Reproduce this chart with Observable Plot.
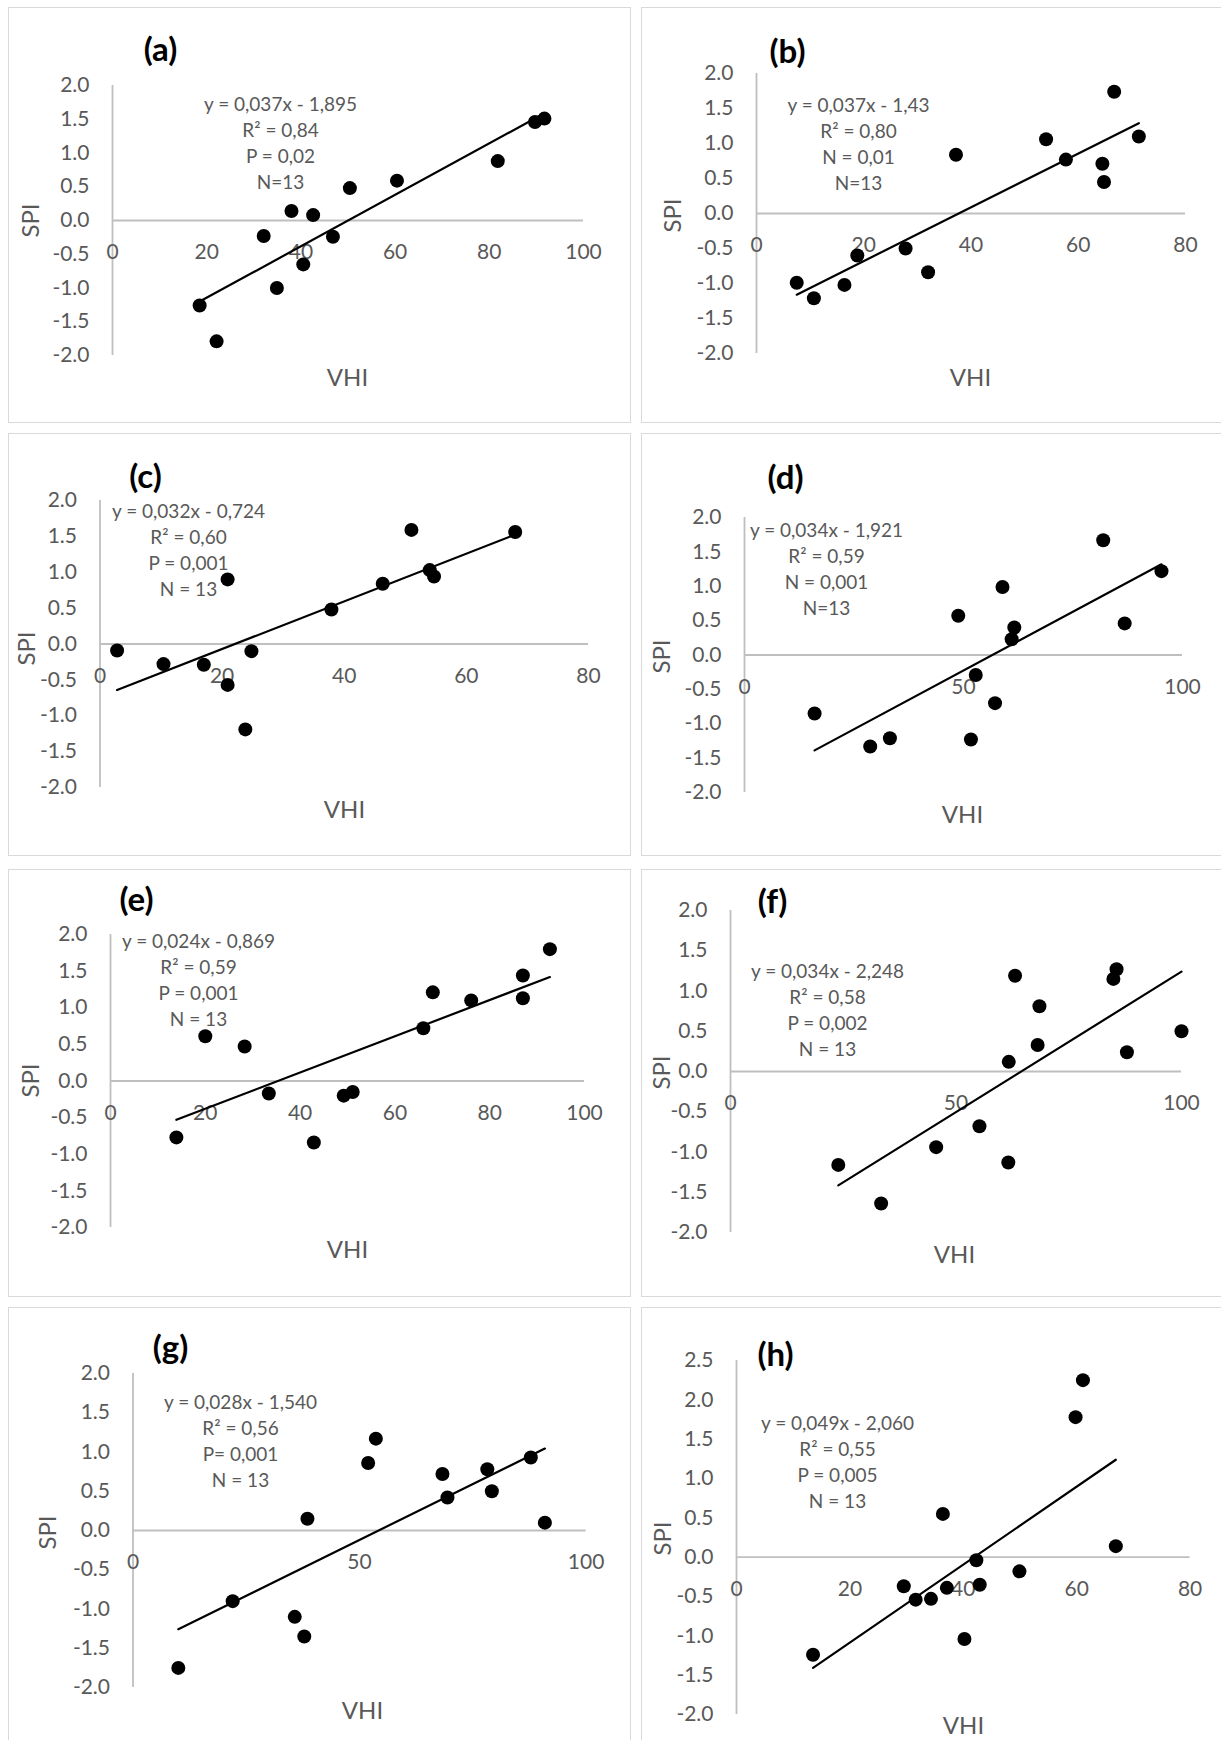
<!DOCTYPE html>
<html>
<head>
<meta charset="utf-8">
<script src="https://cdn.jsdelivr.net/npm/d3@7"></script>
<script src="https://cdn.jsdelivr.net/npm/@observablehq/plot@0.6"></script>
<style>
  body { margin: 0; background: #fff; }
  #page { position: relative; width: 1221px; height: 1740px; overflow: hidden; background: #fff; font-family: Lato, "Open Sans", sans-serif; }
  .box { position: absolute; border: 1.5px solid #d9d9d9; box-sizing: border-box; }
  #page svg { position: absolute; left: 0; top: 0; background: transparent !important; max-width: none !important; }
</style>
</head>
<body>
<div id="page"></div>
<script>
// ---------- data ----------
const letters = ["(a)", "(b)", "(c)", "(d)", "(e)", "(f)", "(g)", "(h)"];

const vhiA = [18.5, 22.1, 32.1, 34.9, 38.0, 40.5, 42.6, 46.8, 50.4, 60.4, 81.8, 89.7, 91.7];
const spiA = [-1.26, -1.79, -0.23, -1.00, 0.14, -0.65, 0.08, -0.24, 0.48, 0.59, 0.88, 1.46, 1.51];
const vhiB = [7.5, 10.7, 16.4, 18.8, 27.8, 32.0, 37.2, 54.0, 57.7, 64.5, 64.8, 66.7, 71.3];
const spiB = [-0.99, -1.21, -1.02, -0.60, -0.50, -0.84, 0.84, 1.06, 0.77, 0.71, 0.45, 1.74, 1.10];
const vhiC = [2.8, 10.4, 17.0, 20.9, 20.9, 23.8, 24.8, 37.9, 46.3, 51.0, 54.0, 54.7, 68.0];
const spiC = [-0.09, -0.28, -0.29, 0.90, -0.57, -1.19, -0.10, 0.48, 0.84, 1.59, 1.03, 0.94, 1.56];
const vhiD = [16.0, 28.7, 33.2, 48.8, 51.7, 52.8, 57.2, 58.9, 61.6, 61.0, 81.9, 86.8, 95.2];
const spiD = [-0.85, -1.33, -1.21, 0.57, -1.23, -0.29, -0.70, 0.99, 0.40, 0.23, 1.67, 0.46, 1.22];
const vhiE = [13.9, 20.0, 28.3, 33.4, 42.9, 49.2, 51.1, 66.0, 68.0, 76.1, 87.0, 87.0, 92.7];
const spiE = [-0.77, 0.61, 0.47, -0.17, -0.84, -0.20, -0.15, 0.72, 1.21, 1.10, 1.44, 1.13, 1.80];
const vhiF = [23.9, 33.4, 45.6, 55.2, 61.6, 61.7, 63.1, 68.1, 68.5, 84.9, 85.6, 87.9, 100.0];
const spiF = [-1.16, -1.64, -0.94, -0.68, -1.13, 0.12, 1.19, 0.33, 0.81, 1.15, 1.27, 0.24, 0.50];
const vhiG = [10.0, 22.0, 35.7, 37.8, 38.5, 51.9, 53.6, 68.3, 69.4, 78.2, 79.2, 87.8, 90.9];
const spiG = [-1.75, -0.90, -1.10, -1.35, 0.15, 0.86, 1.17, 0.72, 0.42, 0.78, 0.50, 0.93, 0.10];
const vhiH = [13.5, 29.5, 31.6, 34.3, 36.4, 37.1, 40.2, 42.3, 42.9, 49.9, 59.8, 61.1, 66.9];
const spiH = [-1.24, -0.37, -0.54, -0.53, 0.55, -0.39, -1.04, -0.04, -0.35, -0.18, 1.78, 2.25, 0.14];

const annotations = [
  ["y = 0,037x - 1,895", "R² = 0,84", "P = 0,02", "N=13"],
  ["y = 0,037x - 1,43", "R² = 0,80", "N = 0,01", "N=13"],
  ["y = 0,032x - 0,724", "R² = 0,60", "P = 0,001", "N = 13"],
  ["y = 0,034x - 1,921", "R² = 0,59", "N = 0,001", "N=13"],
  ["y = 0,024x - 0,869", "R² = 0,59", "P = 0,001", "N = 13"],
  ["y = 0,034x - 2,248", "R² = 0,58", "P = 0,002", "N = 13"],
  ["y = 0,028x - 1,540", "R² = 0,56", "P= 0,001", "N = 13"],
  ["y = 0,049x - 2,060", "R² = 0,55", "P = 0,005", "N = 13"]
];

const xTicks100by20 = [0, 20, 40, 60, 80, 100];
const xTicks80 = [0, 20, 40, 60, 80];
const xTicks100by50 = [0, 50, 100];
const yTicks = [-2, -1.5, -1, -0.5, 0, 0.5, 1, 1.5, 2];
const yTicksH = [-2, -1.5, -1, -0.5, 0, 0.5, 1, 1.5, 2, 2.5];
const xLabel = "VHI";
const yLabel = "SPI";

const vhi = [vhiA, vhiB, vhiC, vhiD, vhiE, vhiF, vhiG, vhiH];
const spi = [spiA, spiB, spiC, spiD, spiE, spiF, spiG, spiH];
const xTicksAll = [xTicks100by20, xTicks80, xTicks80, xTicks100by50, xTicks100by20, xTicks100by50, xTicks100by50, xTicks80];
const yTicksAll = [yTicks, yTicks, yTicks, yTicks, yTicks, yTicks, yTicks, yTicksH];

// ---------- layout (pixel positions) ----------
const W = 1221, H = 1740;
const cols = [[8, 631], [641, 1232]];
const rows = [[7, 423], [433, 856], [869, 1297], [1307, 1760]];
const layout = [
  {x0: 112, x1: 583, yTop: 85, yBot: 355, title: [160, 50], ann: [280, 102], spi: [31, 220], vhi: [347, 378]},
  {x0: 756, x1: 1185, yTop: 73, yBot: 353, title: [787, 52], ann: [858, 103], spi: [673, 215], vhi: [970, 378]},
  {x0: 99.5, x1: 588, yTop: 500, yBot: 787, title: [145, 477], ann: [188, 509], spi: [27, 648], vhi: [344, 810]},
  {x0: 744, x1: 1182, yTop: 517, yBot: 792, title: [785, 478], ann: [826, 528], spi: [662, 656], vhi: [962, 815]},
  {x0: 110, x1: 584, yTop: 934, yBot: 1227, title: [136, 900], ann: [198, 939], spi: [31, 1080], vhi: [347, 1250]},
  {x0: 730, x1: 1181, yTop: 910, yBot: 1232, title: [772, 902], ann: [827, 969], spi: [662, 1072], vhi: [954, 1255]},
  {x0: 132.5, x1: 585.6, yTop: 1373, yBot: 1687, title: [170, 1348], ann: [240, 1400], spi: [48, 1532], vhi: [362, 1711]},
  {x0: 736, x1: 1189.6, yTop: 1360, yBot: 1714, title: [775, 1355], ann: [837, 1421], spi: [663, 1538], vhi: [963, 1726]}
];

const page = document.getElementById("page");

// panel frames
rows.forEach(r => cols.forEach(c => {
  const d = document.createElement("div");
  d.className = "box";
  d.style.left = c[0] + "px";
  d.style.top = r[0] + "px";
  d.style.width = (c[1] - c[0]) + "px";
  d.style.height = (r[1] - r[0]) + "px";
  page.appendChild(d);
}));

const gray = "#595959";
const axisGray = "#bfbfbf";
const lineGap = 26;
const annFont = 19;

for (let i = 0; i < 8; i++) {
  const L = layout[i];
  const xt = xTicksAll[i], yt = yTicksAll[i];
  const data = vhi[i].map((v, k) => ({vhi: v, spi: spi[i][k]}));
  const at = (p, extra = {}) => ({
    frameAnchor: "top-left",
    dx: p[0] - L.x0,
    dy: p[1] - L.yTop,
    textAnchor: "middle",
    lineAnchor: "middle",
    ...extra
  });
  const annCenter = [L.ann[0], L.ann[1] + 1.5 * lineGap];
  const svg = Plot.plot({
    width: W,
    height: H,
    marginLeft: L.x0,
    marginRight: W - L.x1,
    marginTop: L.yTop,
    marginBottom: H - L.yBot,
    style: {background: "transparent", fontFamily: "Lato, 'Open Sans', sans-serif", overflow: "visible"},
    x: {domain: [xt[0], xt[xt.length - 1]], axis: null},
    y: {domain: [yt[0], yt[yt.length - 1]], axis: null},
    marks: [
      Plot.ruleX([0], {stroke: axisGray, strokeWidth: 1.8}),
      Plot.ruleY([0], {stroke: axisGray, strokeWidth: 1.8}),
      Plot.text(yt, {x: 0, y: d => d, dx: -23, text: d => d.toFixed(1), textAnchor: "end", fontSize: 21, fill: gray}),
      Plot.text(xt, {x: d => d, y: 0, dy: 32, text: d => String(d), fontSize: 21, fill: gray}),
      Plot.linearRegressionY(data, {x: "vhi", y: "spi", stroke: "black", strokeWidth: 2.2, ci: 0}),
      Plot.dot(data, {x: "vhi", y: "spi", r: 7, fill: "black", stroke: "none"}),
      Plot.text([letters[i]], at(L.title, {fontSize: 33, fontWeight: "bold", fill: "black"})),
      Plot.text([annotations[i].join("\n")], at(annCenter, {fontSize: annFont, lineHeight: lineGap / annFont, fill: gray})),
      Plot.text([yLabel], at(L.spi, {fontSize: 24, rotate: -90, fill: gray})),
      Plot.text([xLabel], at(L.vhi, {fontSize: 24, fill: gray}))
    ]
  });
  page.appendChild(svg);
}
</script>
</body>
</html>
